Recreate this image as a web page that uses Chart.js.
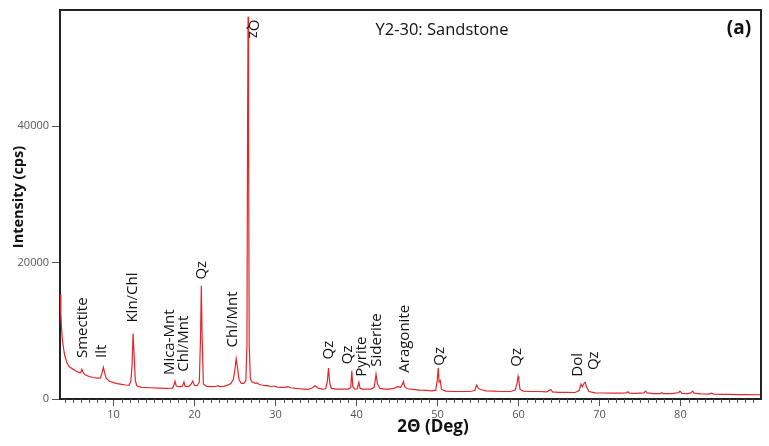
<!doctype html>
<html>
<head>
<title>XRD pattern</title>
<script src="https://cdn.jsdelivr.net/npm/chart.js@4.4.1/dist/chart.umd.min.js"></script>
<style>
  body { margin: 0; background: #fff; }
  canvas { display: block; }
</style>
</head>
<body>
<canvas id="xrd" width="769" height="446"></canvas>
<script>
// 2-theta (deg) and intensity (cps)
var twoTheta = [
  3.4, 3.5, 3.6, 3.7, 3.85, 4.0, 4.25, 4.5, 4.9, 5.3, 5.7, 5.95, 6.1, 6.25, 6.5, 7.0, 7.5, 8.0, 8.4, 8.6,
  8.75, 8.9, 9.1, 9.5, 10.0, 10.5, 11.0, 11.5, 11.9, 12.15, 12.3, 12.42, 12.55, 12.7, 12.9, 13.5, 14.5, 15.5, 16.5, 17.3,
  17.5, 17.6, 17.75, 18.1, 18.5, 18.7, 18.85, 19.3, 19.6, 19.8, 20.0, 20.35, 20.6, 20.75, 20.85, 20.95, 21.1, 21.5, 22.0, 22.5,
  22.9, 23.1, 23.6, 24.0, 24.5, 24.8, 25.0, 25.15, 25.3, 25.5, 25.8, 26.1, 26.35, 26.48, 26.56, 26.62, 26.68, 26.76, 26.9, 27.1,
  27.3, 27.45, 27.7, 27.9, 28.3, 28.7, 29.05, 29.4, 29.8, 30.2, 30.7, 31.2, 31.5, 31.9, 32.5, 33.0, 33.5, 34.0, 34.5, 34.9,
  35.3, 35.8, 36.2, 36.4, 36.55, 36.7, 36.9, 37.5, 38.0, 38.6, 39.0, 39.3, 39.43, 39.55, 39.8, 40.1, 40.3, 40.45, 40.8, 41.3,
  41.8, 42.2, 42.42, 42.6, 42.9, 43.5, 44.0, 44.6, 45.1, 45.45, 45.65, 45.8, 45.95, 46.3, 47.0, 47.8, 48.6, 49.3, 49.8, 49.98,
  50.1, 50.2, 50.35, 50.5, 51.0, 52.0, 53.0, 54.0, 54.6, 54.85, 55.05, 55.4, 56.0, 57.0, 58.0, 59.0, 59.6, 59.85, 59.95, 60.05,
  60.2, 60.6, 61.5, 62.5, 63.5, 64.0, 64.2, 65.0, 66.0, 67.0, 67.5, 67.72, 67.9, 68.1, 68.25, 68.4, 68.7, 69.5, 70.5, 71.5,
  72.5, 73.3, 73.5, 73.7, 74.5, 75.5, 75.7, 75.9, 76.7, 77.5, 77.7, 77.9, 79.0, 79.8, 79.95, 80.2, 80.9, 81.3, 81.5, 81.7,
  82.5, 83.5, 83.85, 84.1, 85.0, 86.0, 87.0, 88.0, 89.95
];
var intensity = [
  15300, 12500, 10200, 8600, 7300, 6300, 5300, 4800, 4450, 4150, 3900, 3850, 4350, 3900, 3550, 3300, 3150, 3050, 3100, 3900,
  4650, 3900, 3050, 2600, 2400, 2250, 2150, 2050, 2000, 2600, 5000, 9600, 6500, 2700, 1900, 1700, 1650, 1600, 1550, 1600,
  2200, 2600, 1900, 1800, 1850, 2500, 1850, 1850, 2200, 2650, 2000, 1950, 2500, 9000, 16600, 9000, 2200, 1850, 1800, 1800,
  1950, 1800, 1850, 2000, 2250, 2900, 4300, 5900, 4800, 2800, 2300, 2300, 2700, 8000, 40000, 56000, 40000, 8000, 3000, 2500,
  2450, 2300, 2350, 2200, 2050, 1950, 1950, 1800, 1900, 1750, 1700, 1700, 1800, 1650, 1550, 1500, 1450, 1400, 1600, 1950,
  1550, 1450, 1500, 2500, 4550, 2400, 1550, 1450, 1450, 1450, 1450, 1700, 4150, 1800, 1450, 1500, 2450, 1550, 1450, 1450,
  1450, 1700, 3650, 2200, 1550, 1450, 1450, 1550, 1800, 1700, 2100, 2550, 1800, 1500, 1400, 1300, 1250, 1200, 1300, 2800,
  4580, 2500, 2700, 1400, 1150, 1100, 1100, 1100, 1250, 2050, 1550, 1350, 1200, 1150, 1100, 1100, 1300, 2400, 3300, 2700,
  1400, 1150, 1100, 1100, 1050, 1400, 1050, 980, 960, 950, 1250, 2200, 1800, 2300, 2450, 1800, 1100, 900, 880, 860,
  850, 880, 1050, 870, 830, 900, 1150, 900, 800, 800, 920, 790, 780, 950, 1150, 820, 780, 900, 1150, 850,
  740, 720, 850, 720, 680, 670, 650, 640, 620
];

// phase labels: text, 2-theta and intensity at the foot of the rotated text
var peakNames = ['Smectite', 'Ilt', 'Kln/Chl', 'Mica-Mnt', 'Chl/Mnt', 'Qz', 'Chl/Mnt', 'Qz', 'Qz', 'Pyrite',
  'Siderite', 'Aragonite', 'Qz', 'Qz', 'Dol', 'Qz'];
var peakLabelX = [6.2, 8.6, 12.4, 17.0, 18.65, 20.9, 24.7, 36.55, 38.9, 40.7, 42.5, 46.0, 50.3, 59.8, 67.3, 69.3];
var peakLabelY = [6000, 6000, 11200, 3500, 4000, 17500, 7560, 5800, 5100, 3260, 4730, 3850, 4870, 4730, 3260, 4240];
// the main quartz peak label reads downwards from the top
var topPeakName = 'Qz';
var topPeakX = 27.3;
var topPeakY = 55600;

var xTicks = [10, 20, 30, 40, 50, 60, 70, 80];
var yTicks = [0, 20000, 40000];

var points = twoTheta.map(function(t, i) { return { x: t, y: intensity[i] }; });

var labelsPlugin = {
  id: 'xrdLabels',
  afterDraw: function(chart) {
    var ctx = chart.ctx, a = chart.chartArea;
    var xs = chart.scales.x, ys = chart.scales.y;
    ctx.save();
    // box: top and right edges
    ctx.strokeStyle = '#222';
    ctx.lineWidth = 2;
    ctx.beginPath();
    ctx.moveTo(a.left, a.top);
    ctx.lineTo(a.right, a.top);
    ctx.lineTo(a.right, a.bottom);
    ctx.stroke();

    // minor ticks every degree
    ctx.strokeStyle = '#555';
    ctx.lineWidth = 1;
    ctx.beginPath();
    for (var v = Math.ceil(xs.min); v < xs.max; v++) {
      if (v % 10 === 0) continue;
      var px = Math.round(xs.getPixelForValue(v)) + 0.5;
      ctx.moveTo(px, a.bottom);
      ctx.lineTo(px, a.bottom + 4);
    }
    ctx.stroke();

    // peak labels
    ctx.fillStyle = '#111';
    ctx.font = '15px "Open Sans"';
    ctx.textBaseline = 'middle';
    ctx.textAlign = 'left';
    peakNames.forEach(function(name, i) {
      ctx.save();
      ctx.translate(xs.getPixelForValue(peakLabelX[i]), ys.getPixelForValue(peakLabelY[i]));
      ctx.rotate(-Math.PI / 2);
      ctx.fillText(name, 0, 0);
      ctx.restore();
    });
    ctx.save();
    ctx.translate(xs.getPixelForValue(topPeakX), ys.getPixelForValue(topPeakY));
    ctx.rotate(Math.PI / 2);
    ctx.fillText(topPeakName, 0, 0);
    ctx.restore();

    // titles
    ctx.textAlign = 'center';
    ctx.font = '16.5px "Open Sans"';
    ctx.fillText('Y2-30: Sandstone', 442, 30);
    ctx.font = 'bold 19px "Open Sans"';
    ctx.fillText('(a)', 739, 29);
    ctx.font = 'bold 17px "Open Sans"';
    ctx.fillText('2\u0398 (Deg)', 433, 427);
    ctx.save();
    ctx.translate(19, 197);
    ctx.rotate(-Math.PI / 2);
    ctx.font = 'bold 14.5px "Open Sans"';
    ctx.fillText('Intensity (cps)', 0, 0);
    ctx.restore();
    ctx.restore();
  }
};

var ctx = document.getElementById('xrd').getContext('2d');
new Chart(ctx, {
  type: 'line',
  data: {
    datasets: [{
      data: points,
      borderColor: '#e3262c',
      borderWidth: 1.2,
      pointRadius: 0,
      tension: 0,
      fill: false
    }]
  },
  options: {
    responsive: false,
    animation: false,
    layout: { padding: { top: 10, right: 8, left: 0, bottom: 0 } },
    plugins: { legend: { display: false }, tooltip: { enabled: false } },
    scales: {
      x: {
        type: 'linear',
        min: 3.4,
        max: 89.95,
        afterFit: function(s) { s.height = 47; },
        afterBuildTicks: function(s) { s.ticks = xTicks.map(function(v) { return { value: v }; }); },
        ticks: { color: '#555', font: { family: 'Open Sans', size: 11 }, padding: 2, maxRotation: 0 },
        grid: { drawOnChartArea: false, drawTicks: true, tickLength: 7, color: '#555' },
        border: { color: '#222', width: 2 }
      },
      y: {
        min: 0,
        max: 57000,
        afterFit: function(s) { s.width = 60; },
        afterBuildTicks: function(s) { s.ticks = yTicks.map(function(v) { return { value: v }; }); },
        ticks: {
          color: '#555',
          font: { family: 'Open Sans', size: 11 },
          padding: 3,
          callback: function(v) { return String(v); }
        },
        grid: { drawOnChartArea: false, drawTicks: true, tickLength: 8, color: '#555' },
        border: { color: '#222', width: 2 }
      }
    }
  },
  plugins: [labelsPlugin]
});
</script>
</body>
</html>
